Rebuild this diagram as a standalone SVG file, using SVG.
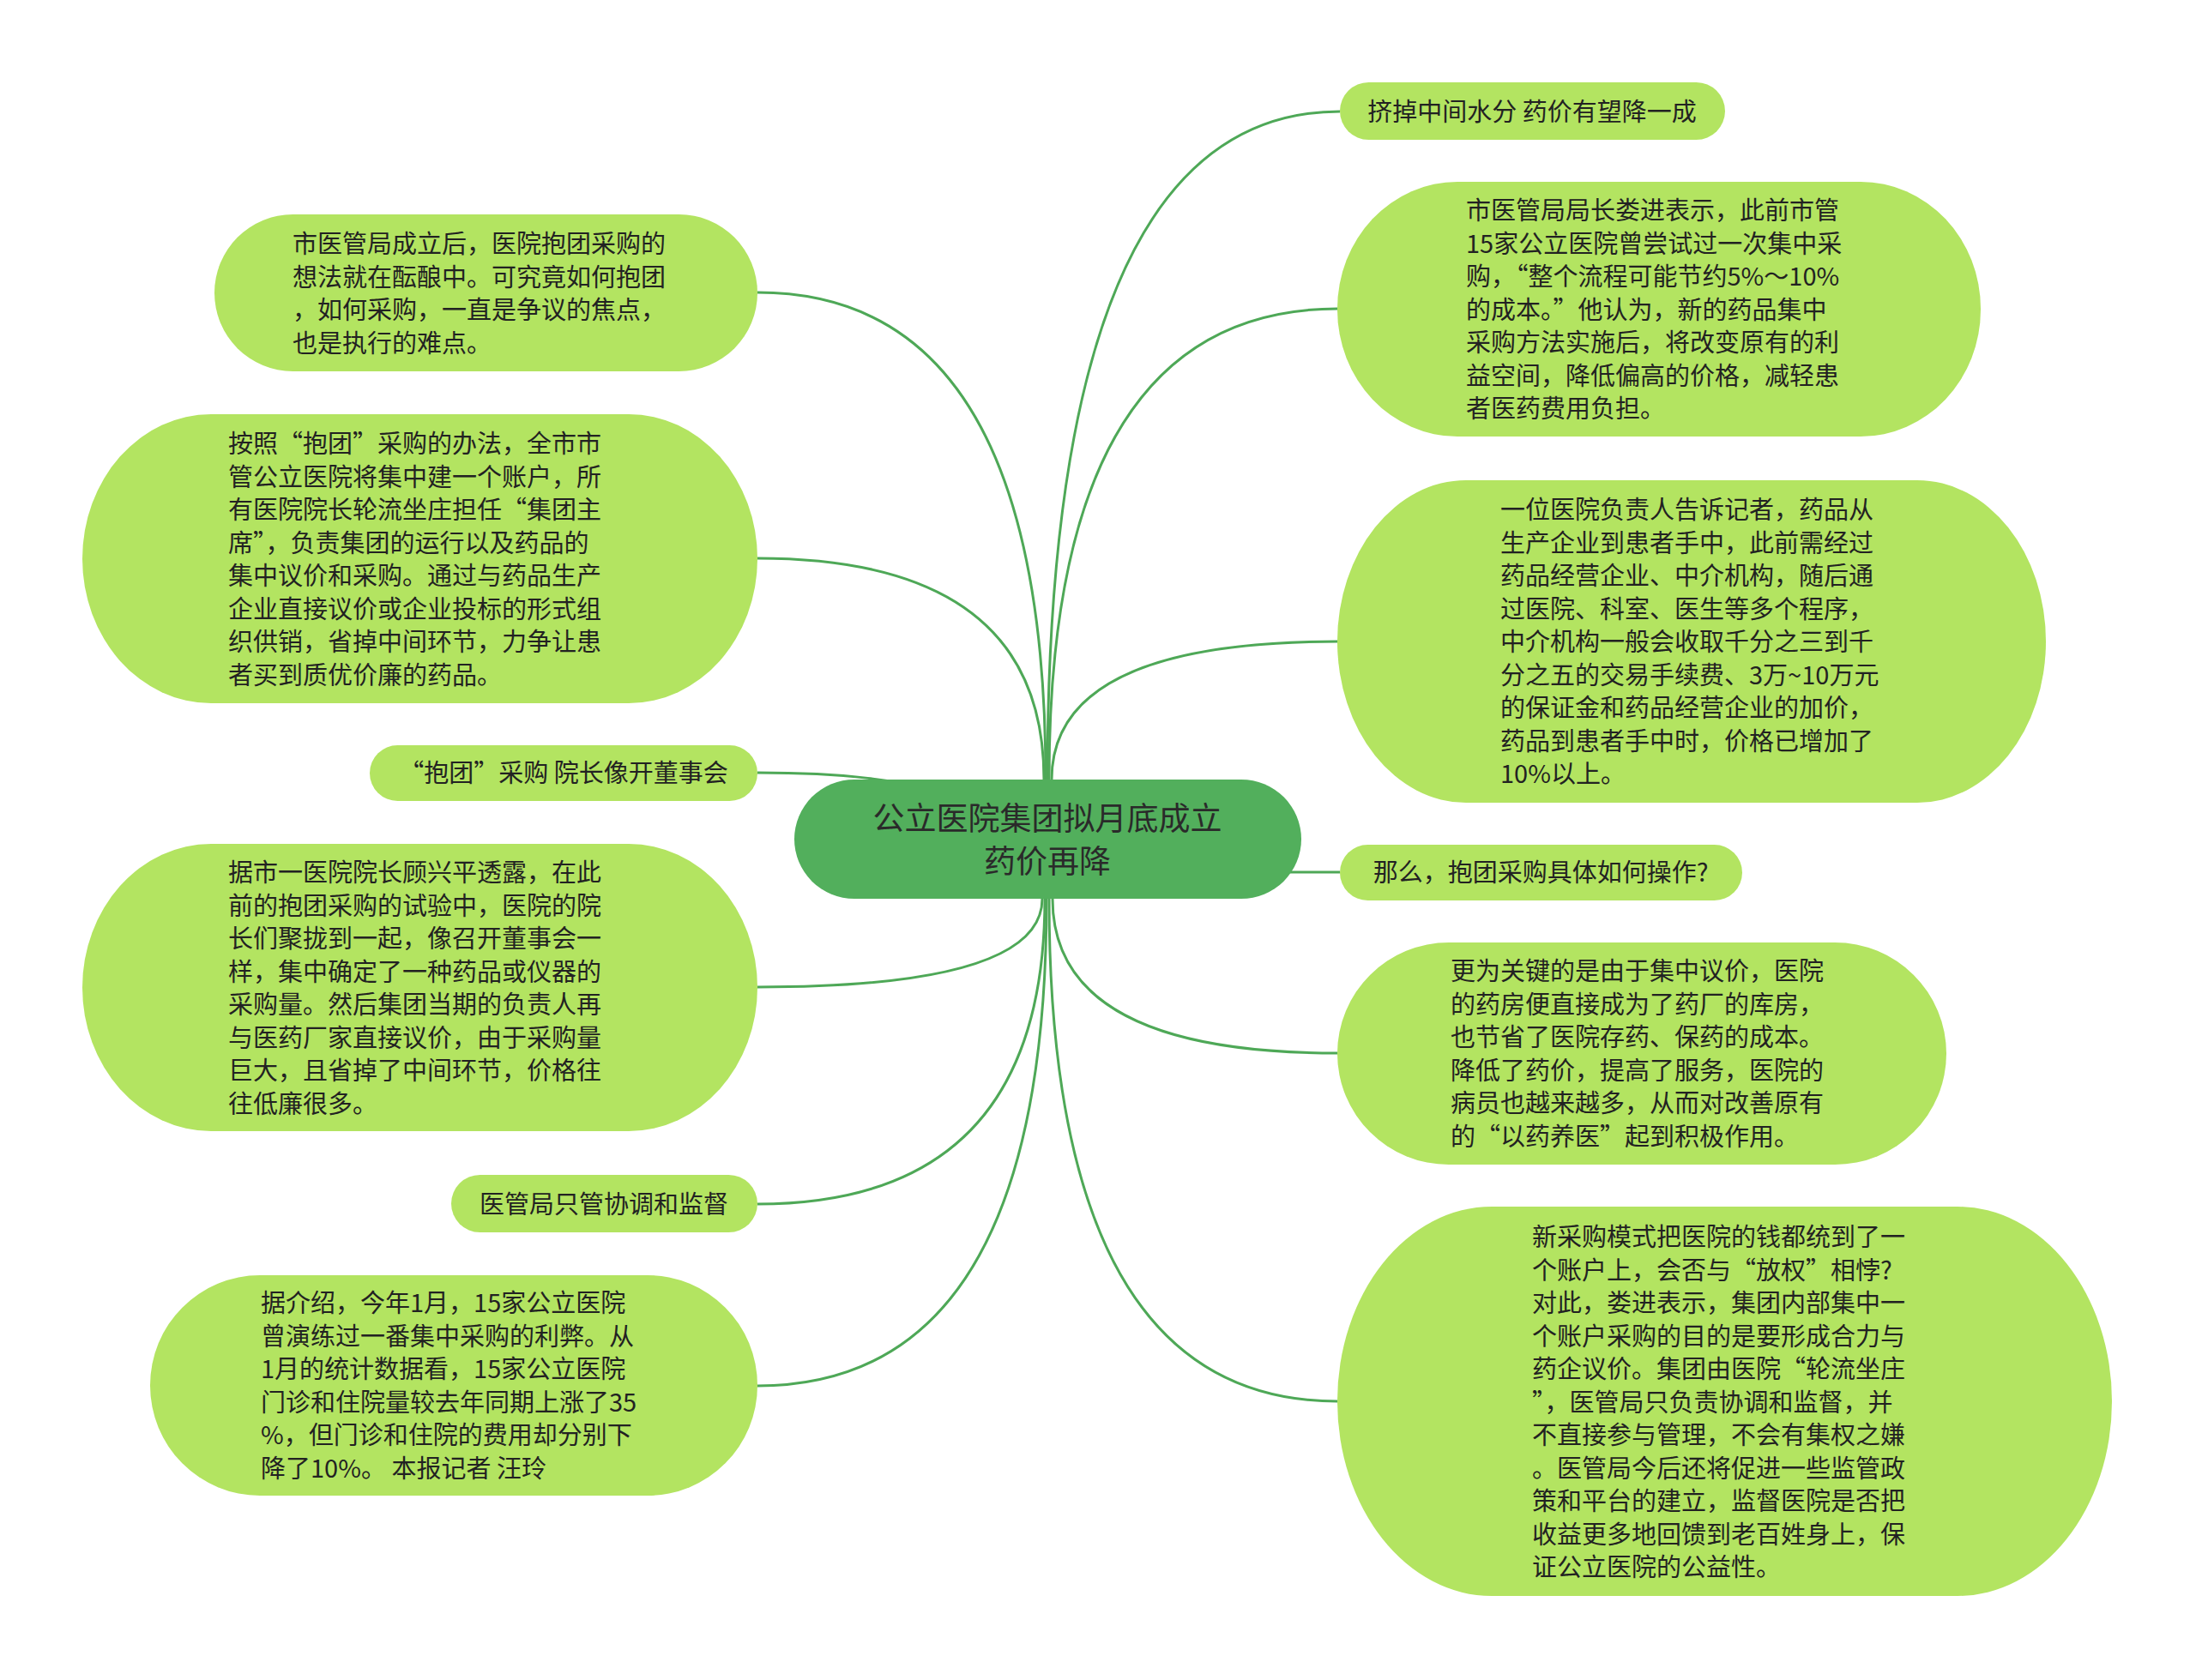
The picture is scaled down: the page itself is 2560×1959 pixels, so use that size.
<svg xmlns="http://www.w3.org/2000/svg" width="2560" height="1959" viewBox="0 0 2560 1959">
<style>
.node{fill:#b3e461}
.root{fill:#52af5c}
.t{font-family:"Noto Sans CJK SC","Noto Sans",sans-serif;font-size:29px;fill:#222}
.c{text-anchor:middle}
.rt{font-family:"Noto Sans CJK SC","Noto Sans",sans-serif;font-size:37px;fill:#2a2a2a;text-anchor:middle}
.link{fill:none;stroke:#4ea857;stroke-width:3}
</style>
<rect width="2560" height="1959" fill="#ffffff"/>
<g id="connectors">
<path class="link" d="M1221 979 L1221 909 Q1221 130 1562 130"/>
<path class="link" d="M1223 979 L1223 909 Q1223 360 1559 360"/>
<path class="link" d="M1226 979 L1226 909 Q1226 748 1559 748"/>
<path class="link" d="M1219 979 L1219 909 Q1219 341 883 341"/>
<path class="link" d="M1217 979 L1217 909 Q1217 651 883 651"/>
<path class="link" d="M1150 940 C1060 905 960 901 883 901"/>
<path class="link" d="M1400 1017 L1562 1017"/>
<path class="link" d="M1227 979 L1227 1048 Q1227 1228 1559 1228"/>
<path class="link" d="M1223 979 L1223 1048 Q1223 1634 1559 1634"/>
<path class="link" d="M1215 979 L1215 1048 Q1215 1151 883 1151"/>
<path class="link" d="M1218 979 L1218 1048 Q1218 1404 883 1404"/>
<path class="link" d="M1220 979 L1220 1048 Q1220 1616 883 1616"/>
</g>
<g id="root">
<rect class="root" x="926" y="909" width="591" height="139" rx="70" ry="70"/>
<text class="rt" x="1221" y="968"><tspan x="1221">公立医院集团拟月底成立</tspan><tspan x="1221" dy="50">药价再降</tspan></text>
</g>
<g id="n1">
<rect class="node" x="1562" y="96" width="449" height="67" rx="33.5" ry="33.5"/>
<text class="t c" x="1786" y="141">挤掉中间水分 药价有望降一成</text>
</g>
<g id="n2">
<rect class="node" x="1559" y="212" width="750" height="297" rx="140" ry="148"/>
<text class="t" x="1709" y="256"><tspan x="1709">市医管局局长娄进表示，此前市管</tspan><tspan x="1709" dy="38.5">15家公立医院曾尝试过一次集中采</tspan><tspan x="1709" dy="38.5">购，“整个流程可能节约5%～10%</tspan><tspan x="1709" dy="38.5">的成本。”他认为，新的药品集中</tspan><tspan x="1709" dy="38.5">采购方法实施后，将改变原有的利</tspan><tspan x="1709" dy="38.5">益空间，降低偏高的价格，减轻患</tspan><tspan x="1709" dy="38.5">者医药费用负担。</tspan></text>
</g>
<g id="n3">
<rect class="node" x="1559" y="560" width="826" height="376" rx="150" ry="188"/>
<text class="t" x="1749" y="605"><tspan x="1749">一位医院负责人告诉记者，药品从</tspan><tspan x="1749" dy="38.5">生产企业到患者手中，此前需经过</tspan><tspan x="1749" dy="38.5">药品经营企业、中介机构，随后通</tspan><tspan x="1749" dy="38.5">过医院、科室、医生等多个程序，</tspan><tspan x="1749" dy="38.5">中介机构一般会收取千分之三到千</tspan><tspan x="1749" dy="38.5">分之五的交易手续费、3万~10万元</tspan><tspan x="1749" dy="38.5">的保证金和药品经营企业的加价，</tspan><tspan x="1749" dy="38.5">药品到患者手中时，价格已增加了</tspan><tspan x="1749" dy="38.5">10%以上。</tspan></text>
</g>
<g id="n4">
<rect class="node" x="1562" y="985" width="469" height="65" rx="32.5" ry="32.5"/>
<text class="t c" x="1796" y="1028">那么，抱团采购具体如何操作?</text>
</g>
<g id="n5">
<rect class="node" x="1559" y="1099" width="710" height="259" rx="130" ry="129.5"/>
<text class="t" x="1691" y="1143"><tspan x="1691">更为关键的是由于集中议价，医院</tspan><tspan x="1691" dy="38.5">的药房便直接成为了药厂的库房，</tspan><tspan x="1691" dy="38.5">也节省了医院存药、保药的成本。</tspan><tspan x="1691" dy="38.5">降低了药价，提高了服务，医院的</tspan><tspan x="1691" dy="38.5">病员也越来越多，从而对改善原有</tspan><tspan x="1691" dy="38.5">的“以药养医”起到积极作用。</tspan></text>
</g>
<g id="n6">
<rect class="node" x="1559" y="1407" width="903" height="454" rx="180" ry="227"/>
<text class="t" x="1786" y="1453"><tspan x="1786">新采购模式把医院的钱都统到了一</tspan><tspan x="1786" dy="38.5">个账户上，会否与“放权”相悖?</tspan><tspan x="1786" dy="38.5">对此，娄进表示，集团内部集中一</tspan><tspan x="1786" dy="38.5">个账户采购的目的是要形成合力与</tspan><tspan x="1786" dy="38.5">药企议价。集团由医院“轮流坐庄</tspan><tspan x="1786" dy="38.5">”，医管局只负责协调和监督，并</tspan><tspan x="1786" dy="38.5">不直接参与管理，不会有集权之嫌</tspan><tspan x="1786" dy="38.5">。医管局今后还将促进一些监管政</tspan><tspan x="1786" dy="38.5">策和平台的建立，监督医院是否把</tspan><tspan x="1786" dy="38.5">收益更多地回馈到老百姓身上，保</tspan><tspan x="1786" dy="38.5">证公立医院的公益性。</tspan></text>
</g>
<g id="n7">
<rect class="node" x="250" y="250" width="633" height="183" rx="91.5" ry="91.5"/>
<text class="t" x="341" y="295"><tspan x="341">市医管局成立后，医院抱团采购的</tspan><tspan x="341" dy="38.5">想法就在酝酿中。可究竟如何抱团</tspan><tspan x="341" dy="38.5">，如何采购，一直是争议的焦点，</tspan><tspan x="341" dy="38.5">也是执行的难点。</tspan></text>
</g>
<g id="n8">
<rect class="node" x="96" y="483" width="787" height="337" rx="150" ry="168.5"/>
<text class="t" x="266" y="528"><tspan x="266">按照“抱团”采购的办法，全市市</tspan><tspan x="266" dy="38.5">管公立医院将集中建一个账户，所</tspan><tspan x="266" dy="38.5">有医院院长轮流坐庄担任“集团主</tspan><tspan x="266" dy="38.5">席”，负责集团的运行以及药品的</tspan><tspan x="266" dy="38.5">集中议价和采购。通过与药品生产</tspan><tspan x="266" dy="38.5">企业直接议价或企业投标的形式组</tspan><tspan x="266" dy="38.5">织供销，省掉中间环节，力争让患</tspan><tspan x="266" dy="38.5">者买到质优价廉的药品。</tspan></text>
</g>
<g id="n9">
<rect class="node" x="431" y="869" width="452" height="65" rx="32.5" ry="32.5"/>
<text class="t c" x="657" y="912">“抱团”采购 院长像开董事会</text>
</g>
<g id="n10">
<rect class="node" x="96" y="984" width="787" height="335" rx="150" ry="167.5"/>
<text class="t" x="266" y="1028"><tspan x="266">据市一医院院长顾兴平透露，在此</tspan><tspan x="266" dy="38.5">前的抱团采购的试验中，医院的院</tspan><tspan x="266" dy="38.5">长们聚拢到一起，像召开董事会一</tspan><tspan x="266" dy="38.5">样，集中确定了一种药品或仪器的</tspan><tspan x="266" dy="38.5">采购量。然后集团当期的负责人再</tspan><tspan x="266" dy="38.5">与医药厂家直接议价，由于采购量</tspan><tspan x="266" dy="38.5">巨大，且省掉了中间环节，价格往</tspan><tspan x="266" dy="38.5">往低廉很多。</tspan></text>
</g>
<g id="n11">
<rect class="node" x="526" y="1370" width="357" height="67" rx="33.5" ry="33.5"/>
<text class="t c" x="704" y="1415">医管局只管协调和监督</text>
</g>
<g id="n12">
<rect class="node" x="175" y="1487" width="708" height="257" rx="128" ry="128.5"/>
<text class="t" x="304" y="1530"><tspan x="304">据介绍，今年1月，15家公立医院</tspan><tspan x="304" dy="38.5">曾演练过一番集中采购的利弊。从</tspan><tspan x="304" dy="38.5">1月的统计数据看，15家公立医院</tspan><tspan x="304" dy="38.5">门诊和住院量较去年同期上涨了35</tspan><tspan x="304" dy="38.5">%，但门诊和住院的费用却分别下</tspan><tspan x="304" dy="38.5">降了10%。 本报记者 汪玲</tspan></text>
</g>
</svg>
